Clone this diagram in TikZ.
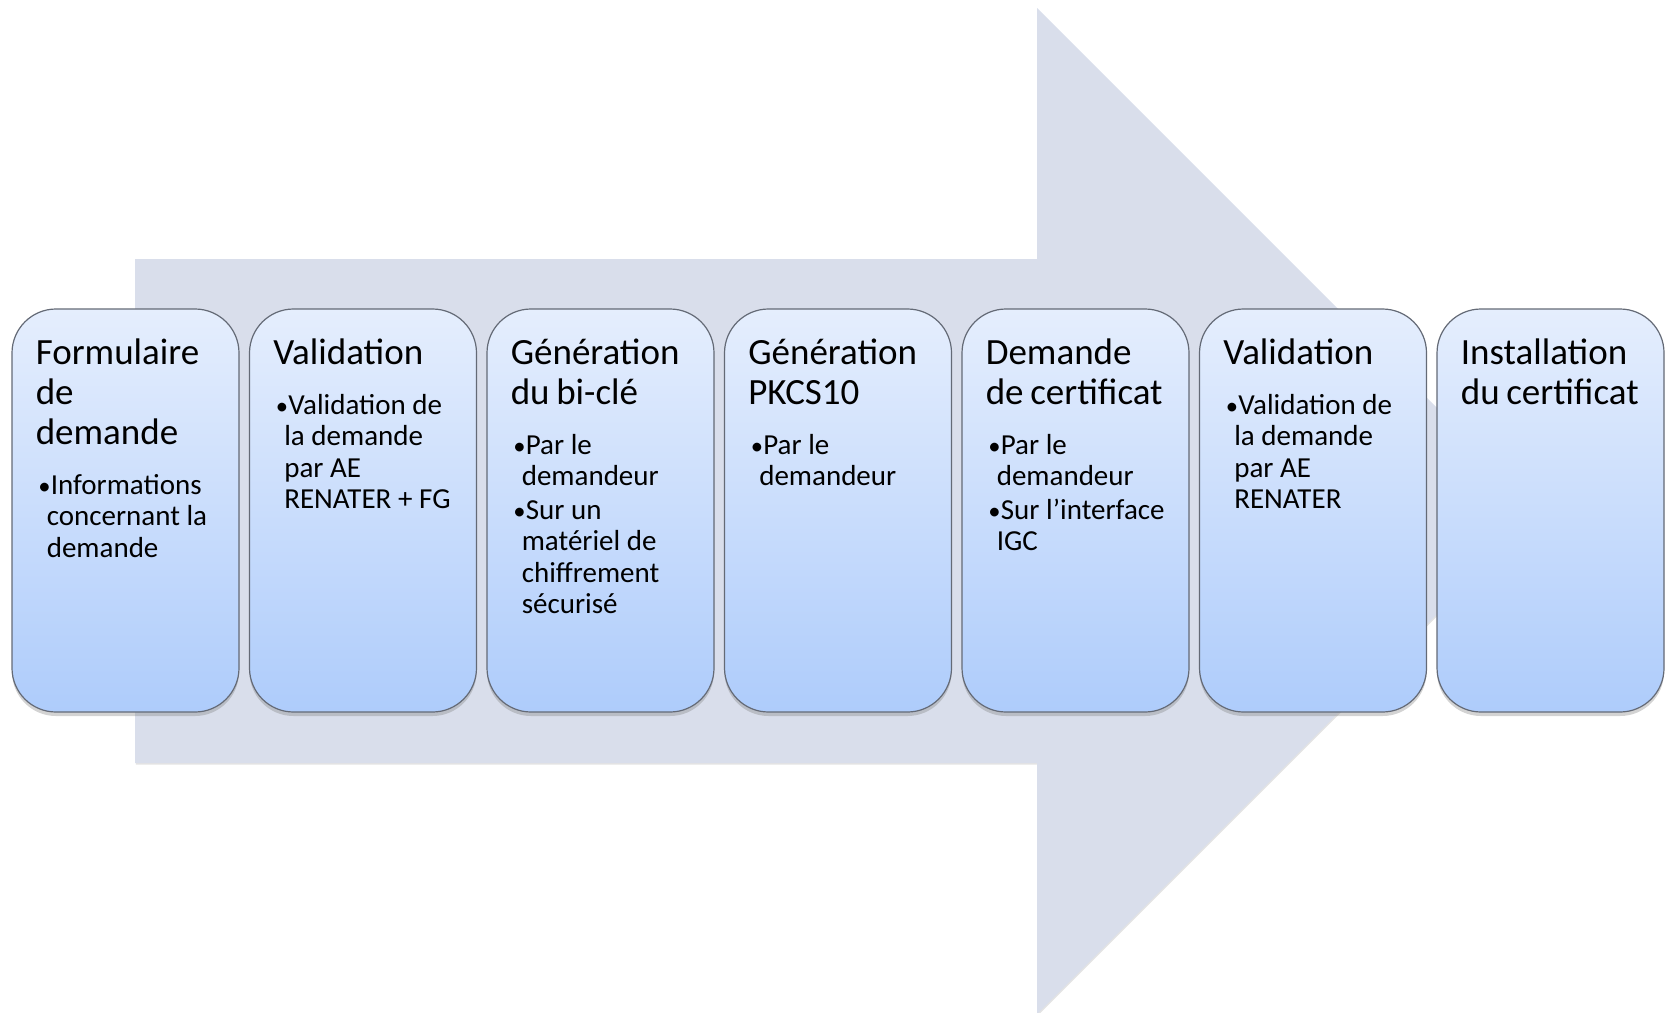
\documentclass[tikz,border=0pt]{standalone}
\usepackage{fontspec}
\setmainfont{Carlito}
\usetikzlibrary{shadows}
\definecolor{arrowfill}{RGB}{217,222,235}
\definecolor{boxtop}{RGB}{229,238,253}
\definecolor{boxbot}{RGB}{174,204,251}
\definecolor{boxline}{RGB}{100,106,118}
\newcommand\ttl[1]{\parindent=0pt\fontsize{18.5}{20}\selectfont\rule{0pt}{16pt}#1\par\vspace{8pt}}
\newcommand\itm[1]{\par\vspace{1pt}\fontsize{14.5}{15.75}\selectfont\noindent\hangindent=5.5pt\hangafter=1 \makebox[7.5pt][l]{\hspace{1.3pt}\scalebox{0.85}{•}}#1\par}
\tikzset{
  bigarrow/.style={fill=arrowfill, drop shadow={opacity=0.22, shadow xshift=0.4pt, shadow yshift=-0.8pt}},
  stepbox/.style={draw=boxline, line width=0.6pt, rounded corners=22pt,
    top color=boxtop, bottom color=boxbot, minimum width=113.5pt, minimum height=201.5pt,
    inner sep=0pt, drop shadow={opacity=0.35, shadow xshift=0pt, shadow yshift=-2pt}},
  steptext/.style={anchor=north west, inner sep=0pt, text width=150pt, align=left}
}
\begin{document}
\begin{tikzpicture}[x=0.5pt,y=-0.5pt]
\useasboundingbox (0,0) rectangle (1668,1012);
\begin{scope}
\clip (0,0) rectangle (1668,1012);
\path[bigarrow] (135,259) -- (1037,259) -- (1037,8) -- (1540,511) -- (1037,1014) -- (1037,763) -- (135,763) -- cycle;
\end{scope}
\node[stepbox] (b1) at (125.5,510.5) {};
\node[stepbox] (b2) at (363,510.5) {};
\node[stepbox] (b3) at (600.5,510.5) {};
\node[stepbox] (b4) at (838,510.5) {};
\node[stepbox] (b5) at (1075.5,510.5) {};
\node[stepbox] (b6) at (1313,510.5) {};
\node[stepbox] (b7) at (1550.5,510.5) {};
\node[steptext] (t1) at ([xshift=12pt,yshift=-12pt]b1.north west) {\ttl{Formulaire\newline de\newline demande}\itm{Informations\newline concernant la\newline demande}};
\node[steptext] (t2) at ([xshift=12pt,yshift=-12pt]b2.north west) {\ttl{Validation}\itm{Validation de\newline la demande\newline par AE\newline RENATER + FG}};
\node[steptext] (t3) at ([xshift=12pt,yshift=-12pt]b3.north west) {\ttl{Génération\newline du bi-clé}\itm{Par le\newline demandeur}\itm{Sur un\newline matériel de\newline chiffrement\newline sécurisé}};
\node[steptext] (t4) at ([xshift=12pt,yshift=-12pt]b4.north west) {\ttl{Génération\newline PKCS10}\itm{Par le\newline demandeur}};
\node[steptext] (t5) at ([xshift=12pt,yshift=-12pt]b5.north west) {\ttl{Demande\newline de certificat}\itm{Par le\newline demandeur}\itm{Sur l’interface\newline IGC}};
\node[steptext] (t6) at ([xshift=12pt,yshift=-12pt]b6.north west) {\ttl{Validation}\itm{Validation de\newline la demande\newline par AE\newline RENATER}};
\node[steptext] (t7) at ([xshift=12pt,yshift=-12pt]b7.north west) {\ttl{Installation\newline du certificat}};
\end{tikzpicture}
\end{document}
